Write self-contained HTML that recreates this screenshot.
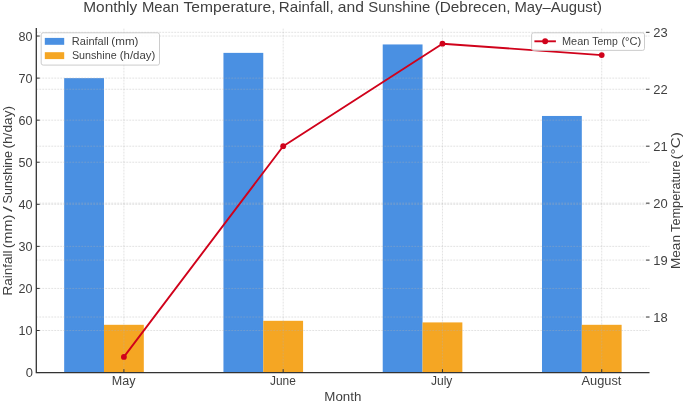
<!DOCTYPE html>
<html><head><meta charset="utf-8"><title>Monthly Mean Temperature, Rainfall, and Sunshine</title>
<style>html,body{margin:0;padding:0;background:#fff;}svg{display:block;}text{font-family:"Liberation Sans",sans-serif;fill:#3f3f3f;}</style></head><body>
<svg style="will-change:transform" width="685" height="402" viewBox="0 0 685 402">
<rect x="0" y="0" width="685" height="402" fill="#ffffff"/>
<rect x="64.17" y="78.11" width="39.82" height="294.44" fill="#4a90e2"/>
<rect x="103.99" y="324.81" width="39.82" height="47.74" fill="#f5a623"/>
<rect x="223.45" y="52.87" width="39.82" height="319.68" fill="#4a90e2"/>
<rect x="263.26" y="320.81" width="39.82" height="51.74" fill="#f5a623"/>
<rect x="382.72" y="44.45" width="39.82" height="328.10" fill="#4a90e2"/>
<rect x="422.54" y="322.41" width="39.82" height="50.14" fill="#f5a623"/>
<rect x="541.99" y="115.96" width="39.82" height="256.59" fill="#4a90e2"/>
<rect x="581.81" y="324.81" width="39.82" height="47.74" fill="#f5a623"/>
<g stroke="#b0b0b0" stroke-opacity="0.46" stroke-width="0.8" stroke-dasharray="1.9,1.1" fill="none">
<line x1="36.30" y1="372.55" x2="649.50" y2="372.55"/>
<line x1="36.30" y1="330.49" x2="649.50" y2="330.49"/>
<line x1="36.30" y1="288.42" x2="649.50" y2="288.42"/>
<line x1="36.30" y1="246.36" x2="649.50" y2="246.36"/>
<line x1="36.30" y1="204.30" x2="649.50" y2="204.30"/>
<line x1="36.30" y1="162.23" x2="649.50" y2="162.23"/>
<line x1="36.30" y1="120.17" x2="649.50" y2="120.17"/>
<line x1="36.30" y1="78.11" x2="649.50" y2="78.11"/>
<line x1="36.30" y1="36.04" x2="649.50" y2="36.04"/>
</g>
<g stroke="#b0b0b0" stroke-opacity="0.46" stroke-width="0.8" stroke-dasharray="1.9,1.1" fill="none">
<line x1="36.30" y1="317.03" x2="649.50" y2="317.03"/>
<line x1="36.30" y1="260.09" x2="649.50" y2="260.09"/>
<line x1="36.30" y1="203.15" x2="649.50" y2="203.15"/>
<line x1="36.30" y1="146.20" x2="649.50" y2="146.20"/>
<line x1="36.30" y1="89.26" x2="649.50" y2="89.26"/>
<line x1="36.30" y1="32.32" x2="649.50" y2="32.32"/>
<line x1="123.90" y1="372.55" x2="123.90" y2="28.05"/>
<line x1="283.17" y1="372.55" x2="283.17" y2="28.05"/>
<line x1="442.45" y1="372.55" x2="442.45" y2="28.05"/>
<line x1="601.72" y1="372.55" x2="601.72" y2="28.05"/>
</g>
<path d="M36.30,28.05 L36.30,372.55 L649.50,372.55" stroke="#333333" stroke-width="1.3" fill="none" stroke-linejoin="miter" stroke-linecap="butt"/>
<g stroke="#333333" stroke-width="1.0" fill="none">
<line x1="36.30" y1="372.55" x2="39.70" y2="372.55"/>
<line x1="36.30" y1="330.49" x2="39.70" y2="330.49"/>
<line x1="36.30" y1="288.42" x2="39.70" y2="288.42"/>
<line x1="36.30" y1="246.36" x2="39.70" y2="246.36"/>
<line x1="36.30" y1="204.30" x2="39.70" y2="204.30"/>
<line x1="36.30" y1="162.23" x2="39.70" y2="162.23"/>
<line x1="36.30" y1="120.17" x2="39.70" y2="120.17"/>
<line x1="36.30" y1="78.11" x2="39.70" y2="78.11"/>
<line x1="36.30" y1="36.04" x2="39.70" y2="36.04"/>
<line x1="646.10" y1="317.03" x2="649.50" y2="317.03"/>
<line x1="646.10" y1="260.09" x2="649.50" y2="260.09"/>
<line x1="646.10" y1="203.15" x2="649.50" y2="203.15"/>
<line x1="646.10" y1="146.20" x2="649.50" y2="146.20"/>
<line x1="646.10" y1="89.26" x2="649.50" y2="89.26"/>
<line x1="646.10" y1="32.32" x2="649.50" y2="32.32"/>
<line x1="123.90" y1="372.55" x2="123.90" y2="369.15"/>
<line x1="283.17" y1="372.55" x2="283.17" y2="369.15"/>
<line x1="442.45" y1="372.55" x2="442.45" y2="369.15"/>
<line x1="601.72" y1="372.55" x2="601.72" y2="369.15"/>
</g>
<polyline points="123.90,356.89 283.17,146.20 442.45,43.71 601.72,55.10" fill="none" stroke="#d0021b" stroke-width="1.9" stroke-linejoin="round" stroke-linecap="butt"/>
<circle cx="123.90" cy="356.89" r="2.9" fill="#d0021b"/>
<circle cx="283.17" cy="146.20" r="2.9" fill="#d0021b"/>
<circle cx="442.45" cy="43.71" r="2.9" fill="#d0021b"/>
<circle cx="601.72" cy="55.10" r="2.9" fill="#d0021b"/>
<g font-size="12.0">
<text x="32.90" y="377.45" text-anchor="end" textLength="7.2" lengthAdjust="spacingAndGlyphs">0</text>
<text x="32.50" y="335.39" text-anchor="end" textLength="14.0" lengthAdjust="spacingAndGlyphs">10</text>
<text x="32.50" y="293.32" text-anchor="end" textLength="14.0" lengthAdjust="spacingAndGlyphs">20</text>
<text x="32.50" y="251.26" text-anchor="end" textLength="14.0" lengthAdjust="spacingAndGlyphs">30</text>
<text x="32.50" y="209.20" text-anchor="end" textLength="14.0" lengthAdjust="spacingAndGlyphs">40</text>
<text x="32.50" y="167.13" text-anchor="end" textLength="14.0" lengthAdjust="spacingAndGlyphs">50</text>
<text x="32.50" y="125.07" text-anchor="end" textLength="14.0" lengthAdjust="spacingAndGlyphs">60</text>
<text x="32.50" y="83.01" text-anchor="end" textLength="14.0" lengthAdjust="spacingAndGlyphs">70</text>
<text x="32.50" y="40.94" text-anchor="end" textLength="14.0" lengthAdjust="spacingAndGlyphs">80</text>
<text x="653.20" y="321.83" text-anchor="start" textLength="14.4" lengthAdjust="spacingAndGlyphs">18</text>
<text x="653.20" y="264.89" text-anchor="start" textLength="14.4" lengthAdjust="spacingAndGlyphs">19</text>
<text x="653.20" y="207.95" text-anchor="start" textLength="14.4" lengthAdjust="spacingAndGlyphs">20</text>
<text x="653.20" y="151.00" text-anchor="start" textLength="14.4" lengthAdjust="spacingAndGlyphs">21</text>
<text x="653.20" y="94.06" text-anchor="start" textLength="14.4" lengthAdjust="spacingAndGlyphs">22</text>
<text x="653.20" y="37.12" text-anchor="start" textLength="14.4" lengthAdjust="spacingAndGlyphs">23</text>
<text x="111.87" y="385.0" textLength="23.7" lengthAdjust="spacingAndGlyphs">May</text>
<text x="270.06" y="385.0" textLength="25.8" lengthAdjust="spacingAndGlyphs">June</text>
<text x="430.96" y="385.0" textLength="21.4" lengthAdjust="spacingAndGlyphs">July</text>
<text x="581.50" y="385.0" textLength="39.9" lengthAdjust="spacingAndGlyphs">August</text>
</g>
<text x="324.34" y="400.6" font-size="12.0" textLength="37.0" lengthAdjust="spacingAndGlyphs">Month</text>
<g transform="translate(11.5,294.5) rotate(-90)" font-size="12.0">
<text x="-1.01" y="0" textLength="45.0" lengthAdjust="spacingAndGlyphs">Rainfall</text>
<text x="46.24" y="0" textLength="33.7" lengthAdjust="spacingAndGlyphs">(mm)</text>
<text x="82.63" y="0" textLength="5.9" lengthAdjust="spacingAndGlyphs">/</text>
<text x="91.10" y="0" textLength="52.4" lengthAdjust="spacingAndGlyphs">Sunshine</text>
<text x="145.90" y="0" textLength="42.7" lengthAdjust="spacingAndGlyphs">(h/day)</text>
</g>
<g transform="translate(680.2,268.0) rotate(-90)" font-size="12.0">
<text x="-1.01" y="0" textLength="34.0" lengthAdjust="spacingAndGlyphs">Mean</text>
<text x="36.10" y="0" textLength="71.4" lengthAdjust="spacingAndGlyphs">Temperature</text>
<text x="108.53" y="0" textLength="27.3" lengthAdjust="spacingAndGlyphs">(°C)</text>
</g>
<g font-size="14.2">
<text x="83.26" y="12.1" textLength="54.0" lengthAdjust="spacingAndGlyphs">Monthly</text>
<text x="141.92" y="12.1" textLength="37.2" lengthAdjust="spacingAndGlyphs">Mean</text>
<text x="183.55" y="12.1" textLength="92.0" lengthAdjust="spacingAndGlyphs">Temperature,</text>
<text x="278.83" y="12.1" textLength="54.8" lengthAdjust="spacingAndGlyphs">Rainfall,</text>
<text x="337.84" y="12.1" textLength="26.1" lengthAdjust="spacingAndGlyphs">and</text>
<text x="368.25" y="12.1" textLength="62.1" lengthAdjust="spacingAndGlyphs">Sunshine</text>
<text x="434.68" y="12.1" textLength="75.8" lengthAdjust="spacingAndGlyphs">(Debrecen,</text>
<text x="514.44" y="12.1" textLength="87.4" lengthAdjust="spacingAndGlyphs">May–August)</text>
</g>
<rect x="41.2" y="32.8" width="118.3" height="32.3" rx="2" ry="2" fill="#ffffff" fill-opacity="0.8" stroke="#c6c6c6" stroke-opacity="1" stroke-width="0.9"/>
<rect x="44.8" y="37.9" width="19.4" height="6.9" fill="#4a90e2"/>
<rect x="44.8" y="52.2" width="19.4" height="6.9" fill="#f5a623"/>
<g font-size="10">
<text x="71.84" y="44.6" textLength="36.8" lengthAdjust="spacingAndGlyphs">Rainfall</text>
<text x="111.39" y="44.6" textLength="27.1" lengthAdjust="spacingAndGlyphs">(mm)</text>
<text x="71.95" y="58.8" textLength="44.7" lengthAdjust="spacingAndGlyphs">Sunshine</text>
<text x="119.75" y="58.8" textLength="35.5" lengthAdjust="spacingAndGlyphs">(h/day)</text>
</g>
<rect x="531.6" y="32.8" width="112.9" height="17.6" rx="2" ry="2" fill="#ffffff" fill-opacity="0.8" stroke="#c6c6c6" stroke-opacity="1" stroke-width="0.9"/>
<line x1="534.4" y1="41.3" x2="555.9" y2="41.3" stroke="#d0021b" stroke-width="1.9"/>
<circle cx="545.15" cy="41.3" r="2.95" fill="#d0021b"/>
<g font-size="10">
<text x="561.99" y="44.6" textLength="27.3" lengthAdjust="spacingAndGlyphs">Mean</text>
<text x="592.30" y="44.6" textLength="25.5" lengthAdjust="spacingAndGlyphs">Temp</text>
<text x="621.45" y="44.6" textLength="19.8" lengthAdjust="spacingAndGlyphs">(°C)</text>
</g>
</svg></body></html>
